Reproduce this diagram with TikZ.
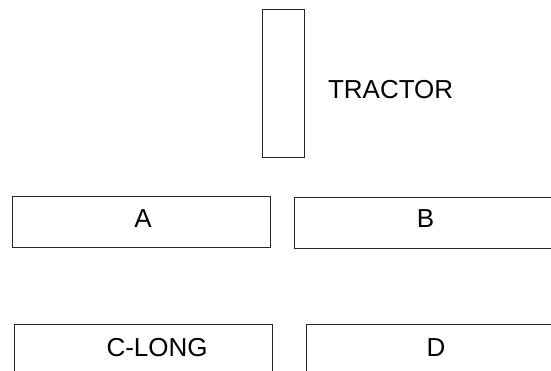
\documentclass[tikz,border=0pt]{standalone}
\usepackage{fontspec}
\setmainfont{Liberation Sans}
\begin{document}
\begin{tikzpicture}[x=1pt,y=-1pt,
  box/.style={draw=black!85,line width=0.9pt,rectangle,inner sep=0pt,outer sep=0pt},
  lbl/.style={inner sep=0pt,outer sep=0pt,font=\fontsize{26}{30}\selectfont}]
\clip (0,0) rectangle (551,371);
\fill[white] (0,0) rectangle (551,371);
% boxes
\node[box,minimum width=42pt,minimum height=148pt] (tractor) at (283,83) {};
\node[box,minimum width=258pt,minimum height=51pt] (a) at (141,221.5) {};
\node[box,minimum width=276pt,minimum height=51pt] (b) at (432,223) {};
\node[box,minimum width=258pt,minimum height=56pt] (c) at (143,352) {};
\node[box,minimum width=274pt,minimum height=56pt] (d) at (443,352) {};
% labels
\node[lbl,anchor=base west] (tractorlbl) at (328,99) {TRACTOR};
\node[lbl,anchor=base] (albl) at (143,227.5) {A};
\node[lbl,anchor=base] (blbl) at (425.5,227.5) {B};
\node[lbl,anchor=base west] (clbl) at (106.5,356) {C-LONG};
\node[lbl,anchor=base] (dlbl) at (436,356) {D};
\end{tikzpicture}
\end{document}
